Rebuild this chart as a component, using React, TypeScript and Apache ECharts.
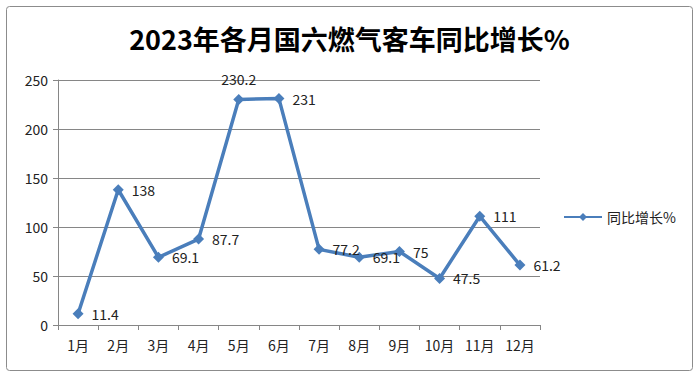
import React, { useEffect, useRef } from "react";
import * as echarts from "echarts";

const categories = ["1月", "2月", "3月", "4月", "5月", "6月", "7月", "8月", "9月", "10月", "11月", "12月"];
const growth = [11.4, 138, 69.1, 87.7, 230.2, 231, 77.2, 69.1, 75, 47.5, 111, 61.2];
const labelPositions = ["right", "right", "right", "right", "top", "right", "right", "right", "right", "right", "right", "right"];
const seriesName = "同比增长%";
const titleText = "2023年各月国六燃气客车同比增长%";

const FONT = "'Noto Sans CJK SC', 'Noto Sans', sans-serif";

export default function App() {
  const ref = useRef<HTMLDivElement>(null);
  useEffect(() => {
    if (!ref.current) return;
    const chart = echarts.init(ref.current, null, { renderer: "svg" });
    chart.setOption({
      animation: false,
      backgroundColor: "#ffffff",
      textStyle: { fontFamily: FONT },
      title: {
        text: titleText,
        left: "center",
        top: 20,
        textStyle: { fontSize: 27, fontWeight: "bold", color: "#000", fontFamily: FONT },
      },
      graphic: [
        {
          type: "rect",
          shape: { x: 6.5, y: 6.5, width: 686, height: 364, r: 3 },
          style: { fill: "none", stroke: "#8c8c8c", lineWidth: 1 },
          silent: true,
        },
      ],
      legend: {
        data: [seriesName],
        left: 558,
        top: 205,
        itemWidth: 38,
        itemHeight: 10,
        itemGap: 4,
        textStyle: { fontSize: 14, color: "#222", fontFamily: FONT },
      },
      grid: { left: 58, right: 159, top: 80, bottom: 55 },
      xAxis: {
        type: "category",
        data: categories,
        boundaryGap: true,
        axisLine: { lineStyle: { color: "#868686" } },
        axisTick: { show: true, alignWithLabel: false, length: 5, lineStyle: { color: "#868686" } },
        axisLabel: { color: "#222", fontSize: 14, margin: 13, fontFamily: FONT },
      },
      yAxis: {
        type: "value",
        min: 0,
        max: 250,
        interval: 50,
        axisLine: { show: true, lineStyle: { color: "#868686" } },
        axisTick: { show: true, length: 5, lineStyle: { color: "#868686" } },
        axisLabel: { color: "#222", fontSize: 14, margin: 10, fontFamily: FONT },
        splitLine: { lineStyle: { color: "#868686" } },
      },
      series: [
        {
          name: seriesName,
          type: "line",
          data: growth.map((v, i) => ({
            value: v,
            label: { position: labelPositions[i] },
          })),
          symbol: "diamond",
          symbolSize: 11,
          lineStyle: { color: "#4a7ebb", width: 3.5 },
          itemStyle: { color: "#4a7ebb" },
          label: {
            show: true,
            distance: 8,
            color: "#222",
            fontSize: 14,
            fontFamily: FONT,
          },
        },
      ],
    });
    return () => chart.dispose();
  }, []);
  return (
    <div
      ref={ref}
      style={{ position: "absolute", left: 0, top: 0, width: 699, height: 380 }}
    />
  );
}
